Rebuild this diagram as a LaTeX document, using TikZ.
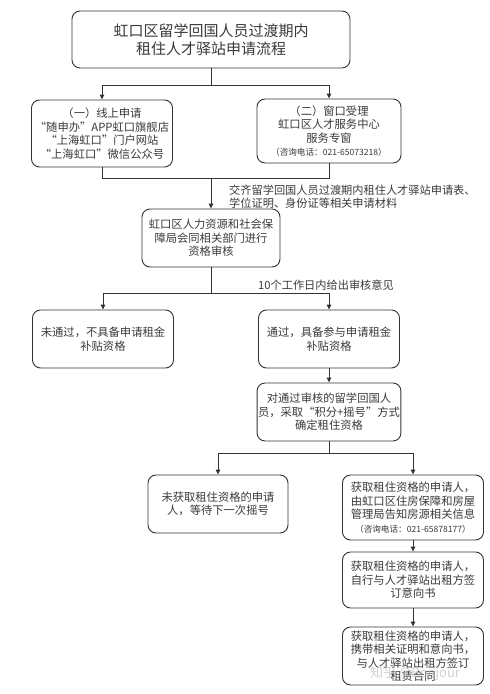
\documentclass[tikz,border=0pt]{standalone}
\usepackage{fontspec}
\newfontfamily\cjk{Noto Sans CJK SC}
\usetikzlibrary{arrows.meta}
\definecolor{ln}{HTML}{333333}
\definecolor{tx}{HTML}{3A3A3A}
\tikzset{
  box/.style={draw=ln, line width=0.9pt, rounded corners=8pt, align=center, inner sep=1pt,
    text=tx, font=\cjk\fontsize{11.3}{13.5}\selectfont},
  conn/.style={draw=ln, line width=0.9pt},
  arr/.style={conn, -{Triangle[length=5pt,width=4.5pt]}},
  note/.style={text=tx, align=left, inner sep=0pt, font=\cjk\fontsize{11.2}{12.8}\selectfont}
}
\newcommand{\sm}[1]{{\fontsize{8.6}{11}\selectfont #1}}
\begin{document}
\begin{tikzpicture}[x=1pt,y=-1pt]
\useasboundingbox[fill=white] (0,0) rectangle (490,694);
\node[box, minimum width=278pt, minimum height=57pt, font=\cjk\fontsize{15}{18}\selectfont] (title) at (211,39.5) {虹口区留学回国人员过渡期内\\租住人才驿站申请流程};
\node[box, minimum width=141pt, minimum height=67pt] (b1) at (102,133.5) {（一）线上申请\\“随申办”APP虹口旗舰店\\“上海虹口”门户网站\\“上海虹口”微信公众号};
\node[box, minimum width=144pt, minimum height=64pt] (b2) at (329,131) {（二）窗口受理\\虹口区人才服务中心\\服务专窗\\\sm{（咨询电话：021-65073218）}};
\node[box, minimum width=138pt, minimum height=58pt] (b3) at (211,238) {虹口区人力资源和社会保\\障局会同相关部门进行\\资格审核};
\node[box, minimum width=141pt, minimum height=58pt] (b4) at (103,339) {未通过，不具备申请租金\\补贴资格};
\node[box, minimum width=141pt, minimum height=58pt] (b5) at (329,339) {通过，具备参与申请租金\\补贴资格};
\node[box, minimum width=140pt, minimum height=58pt] (b6) at (329,412) {对通过审核的留学回国人\\员，采取“积分+摇号”方式\\确定租住资格};
\node[box, minimum width=140pt, minimum height=58pt] (b7) at (218,504) {未获取租住资格的申请\\人，等待下一次摇号};
\node[box, minimum width=141pt, minimum height=65pt] (b8) at (413,507.5) {获取租住资格的申请人，\\由虹口区住房保障和房屋\\管理局告知房源相关信息\\\sm{（咨询电话：021-65878177）}};
\node[box, minimum width=141pt, minimum height=56pt] (b9) at (413,580) {获取租住资格的申请人，\\自行与人才驿站出租方签\\订意向书};
\node[box, minimum width=141pt, minimum height=58pt] (b10) at (413,656) {获取租住资格的申请人，\\携带相关证明和意向书，\\与人才驿站出租方签订\\租赁合同};
\node[note] (n1) at (229,197) [anchor=west] {交齐留学回国人员过渡期内租住人才驿站申请表、\\学位证明、身份证等相关申请材料};
\node[note] (n2) at (258,285) [anchor=west] {10个工作日内给出审核意见};
\node[text=gray!60, opacity=0.6, inner sep=0pt, font=\cjk\fontsize{13}{14}\selectfont] (wm) at (415,674) {知乎 @Bonjour};
\coordinate (j1) at (211,85);
\coordinate (j2) at (211,178);
\coordinate (j3) at (211,293);
\coordinate (j4) at (329,453);
\draw[conn] (title.south) -- (j1);
\draw[arr] (j1) -| (b1.north);
\draw[arr] (j1) -| (b2.north);
\draw[conn] (b1.south) |- (j2);
\draw[conn] (b2.south) |- (j2);
\draw[arr] (j2) -- (b3.north);
\draw[conn] (b3.south) -- (j3);
\draw[arr] (j3) -| (b4.north);
\draw[arr] (j3) -| (b5.north);
\draw[arr] (b5.south) -- (b6.north);
\draw[conn] (b6.south) -- (j4);
\draw[arr] (j4) -| (b7.north);
\draw[arr] (j4) -| (b8.north);
\draw[arr] (b8.south) -- (b9.north);
\draw[arr] (b9.south) -- (b10.north);
\end{tikzpicture}
\end{document}
